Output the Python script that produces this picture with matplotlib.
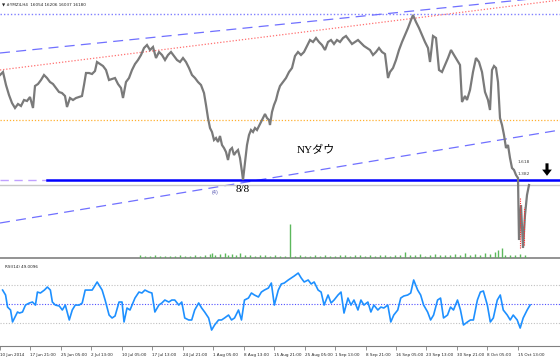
import matplotlib
matplotlib.use("Agg")
import matplotlib.pyplot as plt

# ---------------- data ----------------
header = "\u25bc #YMZ4,H4  16054 16206 16037 16180"
rsi_label = "RSI(14) 49.0096"

price_x = [0, 3, 6, 9, 12, 15, 18, 21, 24, 27, 30, 33, 35, 38, 41, 44, 47, 50, 53, 56, 59, 62, 65, 67, 70,
           73, 76, 79, 82, 84, 86, 89, 92, 95, 97, 100, 103, 106, 109, 112, 115, 118, 121, 123, 126, 129,
           132, 135, 138, 141, 144, 147, 150, 153, 156, 159, 162, 165, 168, 171, 174, 177, 180, 183, 186,
           189, 192, 195, 198, 201, 204, 206, 208, 210, 212, 214, 216, 218, 220, 222, 224, 226, 228, 230,
           232, 234, 236, 238, 240, 242, 243, 245, 247, 249, 251, 253, 255, 257, 259, 261, 263, 265, 267,
           269, 270, 272, 274, 276, 278, 280, 283, 286, 289, 292, 295, 298, 301, 304, 307, 310, 313, 316,
           319, 322, 325, 328, 331, 334, 337, 340, 343, 346, 349, 352, 355, 358, 361, 364, 367, 370, 373,
           376, 379, 382, 385, 388, 390, 393, 396, 399, 402, 405, 408, 411, 413, 416, 419, 422, 425, 428,
           430, 433, 436, 439, 442, 445, 448, 451, 454, 457, 460, 462, 465, 467, 470, 473, 476, 479, 482,
           485, 488, 490, 492, 494, 496, 498, 500, 502, 504, 506, 508, 510, 512, 514, 516, 518, 519, 521,
           523, 525, 527, 529]
price = [16990, 17008, 16930, 16870, 16822, 16792, 16816, 16804, 16840, 16834, 16858, 16792, 16924, 16936,
         16960, 16990, 16972, 16948, 16936, 16912, 16888, 16882, 16864, 16798, 16852, 16840, 16852, 16858,
         16864, 16930, 17002, 17002, 16996, 17014, 17068, 17056, 17044, 17020, 16960, 16966, 16972, 16936,
         16912, 16852, 16948, 16972, 17020, 17056, 17080, 17110, 17152, 17170, 17140, 17158, 17092, 17128,
         17110, 17080, 17110, 17128, 17104, 17080, 17068, 17092, 17068, 17032, 16990, 16972, 16948, 16930,
         16882, 16810, 16732, 16672, 16648, 16600, 16612, 16588, 16624, 16570, 16552, 16528, 16480, 16540,
         16552, 16510, 16528, 16540, 16492, 16408, 16360, 16468, 16570, 16630, 16660, 16648, 16672, 16660,
         16684, 16708, 16732, 16756, 16732, 16720, 16690, 16768, 16810, 16840, 16888, 16924, 16948, 16972,
         17008, 17032, 17104, 17128, 17110, 17128, 17164, 17200, 17188, 17212, 17188, 17170, 17140, 17188,
         17200, 17176, 17200, 17188, 17212, 17224, 17200, 17176, 17188, 17200, 17182, 17164, 17152, 17140,
         17110, 17128, 17152, 17128, 17116, 16972, 17008, 17032, 17080, 17140, 17188, 17230, 17272, 17320,
         17350, 17308, 17272, 17230, 17188, 17152, 17068, 17224, 17212, 17020, 17008, 17050, 17092, 17140,
         17110, 17080, 17050, 16828, 16864, 16840, 16900, 17008, 17092, 17068, 17008, 16888, 16840, 16780,
         17020, 17044, 17032, 16948, 16732, 16690, 16630, 16552, 16570, 16492, 16432, 16420, 16390, 16372,
         16000, 16210, 15952, 16150, 16270, 16330]

vol_x = [140, 145, 150, 155, 160, 165, 170, 175, 180, 185, 190, 195, 200, 205, 210, 212, 215, 220, 225, 228,
         232, 236, 240, 245, 250, 255, 260, 265, 270, 275, 280, 285, 290, 295, 300, 305, 310, 315, 320, 325,
         330, 335, 340, 345, 350, 355, 360, 365, 370, 375, 380, 385, 390, 395, 400, 405, 410, 415, 420, 425,
         430, 435, 440, 445, 450, 455, 460, 465, 470, 475, 480, 485, 490, 495, 498, 502, 505, 510, 515, 520, 525]
volume = [300, 200, 200, 300, 200, 200, 200, 200, 300, 200, 200, 300, 200, 300, 400, 500, 300, 400, 500, 300,
          400, 300, 500, 300, 300, 200, 300, 300, 200, 300, 200, 200, 3400, 200, 300, 200, 200, 300, 200, 300,
          200, 200, 300, 300, 200, 300, 300, 200, 300, 200, 300, 300, 200, 300, 300, 600, 300, 300, 400, 200,
          300, 400, 300, 300, 300, 400, 300, 500, 300, 400, 300, 500, 400, 600, 800, 1000, 300, 300, 300, 400, 300]

# red crash bars (high, low)
red_x = [520, 524]
red_high = [16260, 16200]
red_low = [15950, 15970]

rsi_x = [0, 3, 5, 8, 10, 12, 15, 17, 20, 23, 27, 30, 33, 35, 38, 42, 45, 48, 50, 53, 57, 60, 63, 67, 70, 73,
         77, 80, 83, 87, 90, 95, 100, 103, 107, 110, 113, 117, 120, 122, 125, 128, 133, 137, 140, 143, 147,
         150, 153, 157, 160, 163, 167, 170, 173, 177, 180, 183, 187, 190, 193, 197, 200, 203, 207, 210, 213,
         217, 220, 223, 227, 230, 233, 237, 240, 243, 247, 250, 253, 257, 260, 263, 267, 270, 273, 277, 280,
         283, 287, 290, 293, 297, 300, 303, 307, 310, 313, 317, 320, 323, 327, 330, 333, 337, 340, 343, 347,
         350, 353, 357, 360, 363, 367, 370, 373, 377, 380, 383, 387, 390, 393, 397, 400, 403, 407, 410, 413,
         417, 420, 423, 427, 430, 433, 437, 440, 443, 447, 450, 453, 457, 460, 463, 467, 470, 473, 477, 480,
         483, 487, 490, 493, 497, 500, 503, 507, 510, 513, 517, 520, 523, 527, 530]
rsi = [64.7, 59.5, 46.8, 43.7, 31.1, 35.3, 41.6, 40.5, 41.6, 48.9, 51.1, 52.1, 48.9, 62.6, 61.6, 64.7, 67.9,
       64.7, 52.1, 48.9, 47.9, 43.7, 48.9, 33.2, 43.7, 48.9, 48.9, 51.1, 64.7, 64.7, 64.7, 73.2, 64.7, 54.2,
       38.4, 35.3, 37.4, 52.1, 52.1, 31.1, 45.8, 43.7, 56.3, 62.6, 61.6, 64.7, 62.6, 61.6, 41.6, 48.9, 51.1,
       54.2, 52.1, 54.2, 54.2, 48.9, 52.1, 35.3, 33.2, 33.2, 43.7, 51.1, 45.8, 41.6, 35.3, 22.6, 27.9, 33.2,
       33.2, 35.3, 38.4, 33.2, 35.3, 43.7, 33.2, 54.2, 56.3, 61.6, 59.5, 57.4, 62.6, 64.7, 66.8, 72.1, 48.9,
       64.7, 71.1, 72.1, 75.3, 77.4, 79.5, 82.6, 77.4, 73.2, 75.3, 71.1, 73.2, 64.7, 62.6, 48.9, 59.5, 51.1,
       54.2, 59.5, 62.6, 40.5, 56.3, 48.9, 54.2, 43.7, 54.2, 48.9, 52.1, 41.6, 48.9, 43.7, 46.8, 45.8, 48.9,
       31.1, 38.4, 43.7, 56.3, 58.4, 59.5, 61.6, 75.3, 64.7, 59.5, 48.9, 41.6, 33.2, 38.4, 54.2, 56.3, 35.3,
       38.4, 46.8, 43.7, 54.2, 43.7, 27.9, 31.1, 33.2, 33.2, 54.2, 62.6, 63.7, 48.9, 31.1, 35.3, 54.2, 59.5,
       43.7, 38.4, 33.2, 38.4, 33.2, 24.7, 35.3, 43.7, 49.0]

tick_pos = [-2.6, 28, 58.6, 89.2, 119.8, 150.4, 181, 211.6, 242.2, 272.8, 303.4, 334, 364.6, 395.2, 425.8,
            456.4, 487, 517.6]
tick_labels = ["10 Jun 2014", "17 Jun 21:00", "25 Jun 05:00", "2 Jul 13:00", "10 Jul 05:00", "17 Jul 13:00",
               "24 Jul 21:00", "1 Aug 05:00", "8 Aug 13:00", "15 Aug 21:00", "25 Aug 05:00", "1 Sep 13:00",
               "8 Sep 21:00", "16 Sep 05:00", "23 Sep 13:00", "30 Sep 21:00", "8 Oct 05:00", "15 Oct 13:00"]

# drawn objects (price levels)
top_dotted = 17356
upper_channel = (17122, 17464)
red_trend = (17020, 17440)
orange_level = 16720
lower_channel = (16102, 16660)
support_level = 16360
bid_level = 16330
fib_1618 = 16468
fib_1382 = 16396

# ---------------- figure ----------------
W, H = 560, 363
fig = plt.figure(figsize=(W / 100, H / 100), dpi=100)
fig.patch.set_facecolor("white")

ax = fig.add_axes([0, (H - 258) / H, 1, 258 / H])
ax.set_xlim(0, 560)
ax.set_ylim(15892, 17440)
ax.set_xticks([])
ax.set_yticks([])
for s in ["top", "left", "right"]:
    ax.spines[s].set_visible(False)
ax.spines["bottom"].set_color("#808080")
ax.spines["bottom"].set_linewidth(1.2)

# volume (overlay)
axv = ax.twinx()
axv.set_ylim(0, 25800)
axv.set_xlim(0, 560)
axv.set_yticks([])
for s in axv.spines.values():
    s.set_visible(False)
axv.vlines(vol_x, 0, volume, colors="#5cb85c", linewidth=1.0)

# lines
ax.axhline(top_dotted, color="#8080ff", lw=1.0, ls=(0, (1, 1.5)))
ax.plot([0, 560], upper_channel, color="#7070ff", lw=0.9, ls=(0, (8, 5)))
ax.plot([0, 560], red_trend, color="#ff7070", lw=0.9, ls=(0, (1, 1.5)))
ax.axhline(orange_level, color="#ffb030", lw=0.9, ls=(0, (1, 1.5)))
ax.plot([0, 560], lower_channel, color="#7070ff", lw=0.9, ls=(0, (8, 5)))
ax.axhline(bid_level, color="#c8c8c8", lw=1.0)
ax.plot([0, 47], [support_level, support_level], color="#c0a0ff", lw=1.0, ls=(0, (6, 4)))
ax.plot([47, 560], [support_level, support_level], color="#0000ff", lw=1.8)

# price
ax.plot(price_x, price, color="#7a7a7a", lw=1.6, solid_joinstyle="miter")
ax.vlines(red_x, red_low, red_high, colors="#ff3030", linewidth=0.8, linestyles=(0, (1, 1)))

# texts
ax.text(2, 17410, header, fontsize=3, color="#222222", va="center", ha="left")
ax.text(243, 16300, "8/8", fontsize=8, family=["Liberation Serif", "DejaVu Serif"], ha="center", va="center")
ax.text(215, 16282, "(4)", fontsize=3.5, color="#5050b0", ha="center", va="center")
ax.text(316, 16540, "NYダウ", fontsize=8, family=["Liberation Serif", "Noto Sans CJK JP"], ha="center", va="center")
ax.text(518, fib_1618, "1.618", fontsize=3.2, color="#444444", ha="left", va="center")
ax.text(518, fib_1382, "1.382", fontsize=3.2, color="#444444", ha="left", va="center")
ax.annotate("", xy=(547, 16385), xytext=(547, 16460),
            arrowprops=dict(width=2.2, headwidth=7, headlength=4.5, color="black", lw=0, shrink=0))

# RSI panel
ar = fig.add_axes([0, (H - 346) / H, 1, 85 / H])
ar.set_xlim(0, 560)
ar.set_ylim(5.8, 95.3)
ar.set_yticks([])
for s in ["top", "left", "right"]:
    ar.spines[s].set_visible(False)
ar.spines["bottom"].set_color("#808080")
ar.spines["bottom"].set_linewidth(0.8)
ar.axhline(70, color="#c0c0c0", lw=0.8, ls=(0, (1, 1.5)))
ar.axhline(30, color="#c0c0c0", lw=0.8, ls=(0, (1, 1.5)))
ar.axhline(50, color="#5050ff", lw=0.8, ls=(0, (1, 1.5)))
ar.plot(rsi_x, rsi, color="#1e90ff", lw=1.2)
ar.text(2, 89, rsi_label, fontsize=3, color="#222222", ha="left", va="center")

ar.set_xticks(tick_pos)
ar.set_xticklabels(tick_labels)
ar.tick_params(axis="x", direction="out", length=3, width=0.6, color="#808080",
               labelsize=3, pad=2, labelcolor="#222222")
for lbl in ar.get_xticklabels():
    lbl.set_ha("left")

fig.savefig("out.png", dpi=100, facecolor="white")
